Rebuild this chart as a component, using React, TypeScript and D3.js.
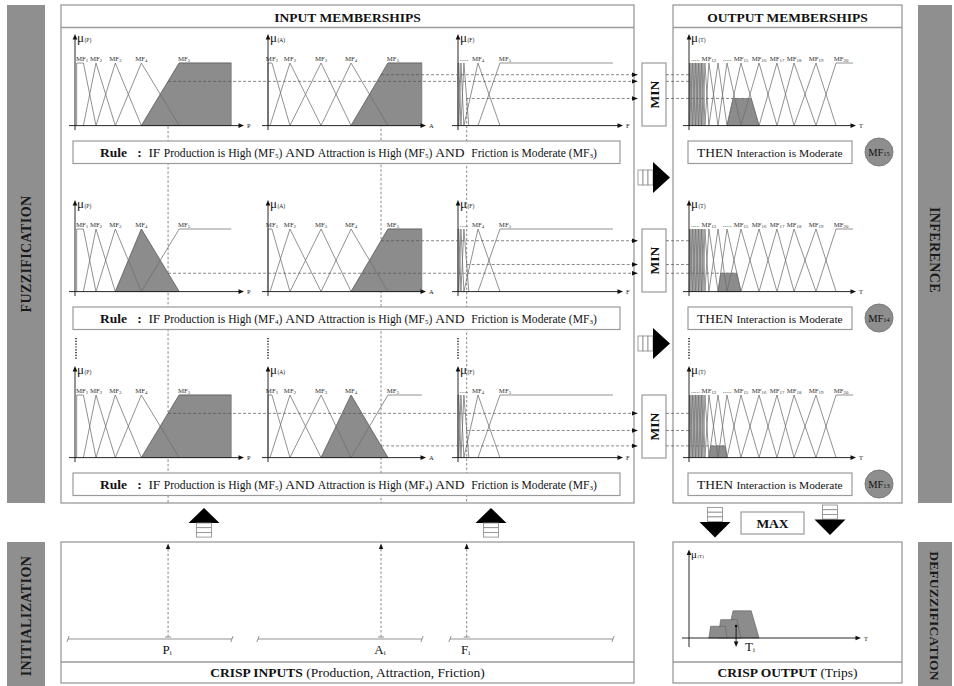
import React from "react";
import * as d3 from "d3";

type Trap = [number, number, number, number];

// ---------------- data ----------------
const inputKeys = ["P", "A", "F"];
const inputNames = ["Production", "Attraction", "Friction"];
const pMF: Trap[] = [[1, 1, 5, 12.5], [5, 12.5, 12.5, 24], [12.5, 24, 24, 39.5], [24, 39.5, 39.5, 62], [39.5, 62, 93, 93]];
const pLabels = ["1", "2", "3", "4", "5"];
const aMF: Trap[] = [[0, 0, 2.5, 14], [1.3, 14, 14, 33.8], [14, 33.8, 33.8, 52.9], [33.8, 52.9, 52.9, 76.4], [52.9, 76.4, 98, 98]];
const aLabels = ["1", "2", "3", "4", "5"];
const fMF: Trap[] = [[0, 0, 0.5, 1.8], [0.5, 1.8, 1.8, 3.6], [1.8, 3.6, 3.6, 6.6], [3.6, 12.2, 12.2, 25.6], [12.2, 25.6, 94.5, 94.5]];
const fLabels = ["", "", ".....", "4", "5"];
const tPeaks = [0.3, 1.2, 2.1, 3.0, 3.9, 4.8, 5.7, 6.6, 7.5, 8.4, 9.6, 12.0, 17.5, 22.9, 31.3, 42.2, 53.0, 63.3, 76.5, 88.6];
const tEnd = 98.8;
const tLabels = ["", "", "", "", ".....", "", "", "", "", "", "", "12", "", ".....", "15", "16", "17", "18", "19", "20"];
const crisp = [55.4, 72, 5.3];
const ruleAnte = [[5, 5, 3], [4, 5, 3], [5, 4, 3]];
const anteTerms = ["High", "High", "Moderate"];
const ruleCons = [15, 14, 13];
const consName = "Interaction";
const consTerm = "Moderate";

// ---------------- helpers ----------------
const FONT = "'Liberation Serif', 'Times New Roman', Times, serif";
const PANEL = "#9a9a9a";
const SIDE = "#8f8f8f";
const MFLINE = "#6e6e6e";
const SHADE = "#8c8c8c";
const DASH = "#555";

function mu(t: Trap, x: number) {
  const [a, b, c, d] = t;
  if (x < a || x > d) return 0;
  if (x >= b && x <= c) return 1;
  if (x < b) return (x - a) / (b - a);
  return (d - x) / (d - c);
}
function mfPts(t: Trap): [number, number][] {
  const [a, b, c, d] = t;
  const pts: [number, number][] = [[a, 0], [b, 1]];
  if (c > b) pts.push([c, 1]);
  if (d > c) pts.push([d, 0]);
  return pts;
}
function clipPts(t: Trap, h: number): [number, number][] {
  const [a, b, c, d] = t;
  return [[a, 0], [a + h * (b - a), h], [d - h * (d - c), h], [d, 0]];
}
function labelX(t: Trap, sx: (v: number) => number) {
  const [a, b, c, d] = t;
  if (a === b) return (sx(b) + sx(c)) / 2 + 2;
  if (c === d) return sx(b) + 5;
  return sx(b);
}

function MFLabel({ x, y, sub }: { x: number; y: number; sub: string }) {
  if (!sub) return null;
  if (sub.startsWith(".")) {
    return <text x={x} y={y} fontSize={7} textAnchor="middle" fill="#444">{sub}</text>;
  }
  return (
    <text x={x} y={y} fontSize={6.8} textAnchor="middle" fill="#333">
      MF<tspan fontSize={4.8} dy={0.8}>{sub}</tspan>
    </text>
  );
}

function Chart({ sx, sy, mfs, labels, keyName, shadeIdx, shadeH, tipX }: any) {
  const x0 = sx(0);
  const top = sy(1);
  const bse = sy(0);
  const line = d3.line<[number, number]>().x((d) => sx(d[0])).y((d) => sy(d[1]));
  return (
    <g>
      {shadeIdx != null && (
        <path d={line(clipPts(mfs[shadeIdx], shadeH))! + "Z"} fill={SHADE} stroke="#6a6a6a" strokeWidth={0.6} />
      )}
      {mfs.map((t: Trap, i: number) => (
        <path key={i} d={line(mfPts(t))!} fill="none" stroke={MFLINE} strokeWidth={0.75} />
      ))}
      {mfs.map((t: Trap, i: number) => (
        <MFLabel key={"l" + i} x={labelX(t, sx)} y={top - 2} sub={labels[i]} />
      ))}
      <line x1={x0} x2={x0} y1={top - 26} y2={bse + 4.5} stroke="#111" strokeWidth={0.9} />
      <path d={`M${x0},${top - 29}L${x0 - 2.3},${top - 23.5}L${x0 + 2.3},${top - 23.5}Z`} fill="#111" />
      <line x1={x0 - 6} x2={tipX - 3} y1={bse} y2={bse} stroke="#111" strokeWidth={0.9} />
      <path d={`M${tipX + 1},${bse}L${tipX - 4.5},${bse - 2.3}L${tipX - 4.5},${bse + 2.3}Z`} fill="#111" />
      <text x={tipX + 4} y={bse + 2.5} fontSize={6.5} fill="#222">{keyName}</text>
      <text x={x0 + 2} y={top - 21} fontSize={13} fill="#111">
        μ<tspan fontSize={5.5} dx={0.5}>({keyName})</tspan>
      </text>
    </g>
  );
}

function RightArrow({ cy }: { cy: number }) {
  return (
    <g>
      {[0, 1, 2].map((i) => (
        <rect key={i} x={638 + i * 5} y={cy - 7.5} width={5} height={15} fill="#fff" stroke="#888" strokeWidth={0.8} />
      ))}
      <path d={`M653,${cy - 15.5}L670,${cy}L653,${cy + 15.5}Z`} fill="#000" />
    </g>
  );
}
function UpArrow({ cx }: { cx: number }) {
  return (
    <g>
      <path d={`M${cx},508L${cx - 15.5},523L${cx + 15.5},523Z`} fill="#000" />
      {[0, 1, 2].map((i) => (
        <rect key={i} x={cx - 7.5} y={523 + i * 4.7} width={15} height={4.7} fill="#fff" stroke="#888" strokeWidth={0.8} />
      ))}
    </g>
  );
}
function DownArrow({ cx, top }: { cx: number; top: number }) {
  return (
    <g>
      {[0, 1, 2].map((i) => (
        <rect key={i} x={cx - 7.5} y={top + i * 4.7} width={15} height={4.7} fill="#fff" stroke="#888" strokeWidth={0.8} />
      ))}
      <path d={`M${cx - 15.5},${top + 14.5}L${cx + 15.5},${top + 14.5}L${cx},${top + 30}Z`} fill="#000" />
    </g>
  );
}

export default function App() {
  const OFF = 166;
  const baseY = (r: number) => 125.6 + OFF * r;
  const yS = (r: number) => d3.scaleLinear().domain([0, 1]).range([baseY(r), baseY(r) - 62.6]);
  const charts = [
    { key: "P", mfs: pMF, labels: pLabels, x: d3.scaleLinear().domain([0, 100]).range([75, 243]), tip: 243 },
    { key: "A", mfs: aMF, labels: aLabels, x: d3.scaleLinear().domain([0, 100]).range([268, 425]), tip: 425 },
    { key: "F", mfs: fMF, labels: fLabels, x: d3.scaleLinear().domain([0, 100]).range([458, 622]), tip: 622 },
  ];
  const xT = d3.scaleLinear().domain([0, 100]).range([689, 855]);
  const tMF: Trap[] = tPeaks.map((p, i) => {
    const prev = i === 0 ? 0 : tPeaks[i - 1];
    if (i === tPeaks.length - 1) return [prev, p, tEnd, tEnd] as Trap;
    return [prev, p, p, tPeaks[i + 1]] as Trap;
  });

  const fire = ruleAnte.map((ante) => ante.map((m, c) => mu(charts[c].mfs[m - 1], crisp[c])));
  const minFire = fire.map((f) => Math.min(...f));
  const crispX = charts.map((ch, c) => ch.x(crisp[c]));

  const yAgg = d3.scaleLinear().domain([0, 1]).range([638, 575.4]);
  let num = 0, den = 0;
  for (let v = 0; v <= 100; v += 0.05) {
    const m = Math.max(...ruleCons.map((k, r) => Math.min(minFire[r], mu(tMF[k - 1], v))));
    num += m * v; den += m;
  }
  const centroid = num / den;
  const lineAgg = d3.line<[number, number]>().x((d) => xT(d[0])).y((d) => yAgg(d[1]));

  const rows = [0, 1, 2];

  const ruleText = (r: number) => {
    const parts: any[] = [];
    parts.push(<tspan key="r" fontWeight="bold" fontSize={13.5}>Rule</tspan>);
    parts.push(<tspan key="c" fontWeight="bold" fontSize={13.5}>{"   :  "}</tspan>);
    parts.push(<tspan key="if" fontSize={13.5}>{"IF "}</tspan>);
    inputNames.forEach((n, c) => {
      parts.push(<tspan key={"n" + c} fontSize={11.6}>{`${n} is ${anteTerms[c]} (MF`}</tspan>);
      parts.push(<tspan key={"s" + c} fontSize={7} dy={1.5}>{String(ruleAnte[r][c])}</tspan>);
      parts.push(<tspan key={"p" + c} fontSize={11.6} dy={-1.5}>{") "}</tspan>);
      if (c < 2) parts.push(<tspan key={"a" + c} fontSize={13.5}>{c === 1 ? "AND  " : "AND "}</tspan>);
    });
    return parts;
  };

  return (
    <svg width={954} height={686} style={{ position: "absolute", left: 0, top: 0, background: "#fff" }} fontFamily={FONT}>
      <rect x={0} y={0} width={954} height={686} fill="#fff" />
      <rect x={7} y={5} width={38} height={498} fill={SIDE} />
      <rect x={7} y={542} width={38} height={144} fill={SIDE} />
      <rect x={918} y={5} width={34} height={498} fill={SIDE} />
      <rect x={918} y={542} width={34} height={144} fill={SIDE} />
      <text transform="translate(31,254) rotate(-90)" textAnchor="middle" fontWeight="bold" fontSize={14} fill="#1a1a1a" letterSpacing={0.4}>FUZZIFICATION</text>
      <text transform="translate(31,616) rotate(-90)" textAnchor="middle" fontWeight="bold" fontSize={14} fill="#1a1a1a" letterSpacing={0.4}>INITIALIZATION</text>
      <text transform="translate(930,250) rotate(90)" textAnchor="middle" fontWeight="bold" fontSize={14} fill="#1a1a1a" letterSpacing={0.4}>INFERENCE</text>
      <text transform="translate(930,616) rotate(90)" textAnchor="middle" fontWeight="bold" fontSize={13.5} fill="#1a1a1a" letterSpacing={0.2}>DEFUZZIFICATION</text>

      <rect x={61} y={5} width={573} height={498} fill="none" stroke={PANEL} strokeWidth={1.3} />
      <line x1={61} x2={634} y1={27.5} y2={27.5} stroke={PANEL} strokeWidth={1.3} />
      <text x={347.5} y={21.5} textAnchor="middle" fontWeight="bold" fontSize={13.5} fill="#111">INPUT MEMBERSHIPS</text>
      <rect x={673} y={5} width={229} height={498} fill="none" stroke={PANEL} strokeWidth={1.3} />
      <line x1={673} x2={902} y1={27.5} y2={27.5} stroke={PANEL} strokeWidth={1.3} />
      <text x={787.5} y={21.5} textAnchor="middle" fontWeight="bold" fontSize={13.5} fill="#111">OUTPUT MEMBERSHIPS</text>

      {crispX.map((x, c) => (
        <line key={"v" + c} x1={x} x2={x} y1={yS(0)(fire[0][c])} y2={503} stroke={DASH} strokeWidth={0.7} strokeDasharray="2.5,2" />
      ))}

      {rows.map((r) => {
        const sy = yS(r);
        return (
          <g key={"row" + r}>
            {charts.map((ch, c) => (
              <Chart key={c} sx={ch.x} sy={sy} mfs={ch.mfs} labels={ch.labels} keyName={ch.key}
                shadeIdx={c < 2 ? ruleAnte[r][c] - 1 : null} shadeH={1} tipX={ch.tip} />
            ))}
            {charts.map((ch, c) => {
              const y = sy(fire[r][c]);
              return (
                <g key={"h" + c}>
                  <line x1={crispX[c]} x2={632} y1={y} y2={y} stroke={DASH} strokeWidth={0.7} strokeDasharray="3,2" />
                  <path d={`M638,${y}L632,${y - 2.2}L632,${y + 2.2}Z`} fill="#111" />
                </g>
              );
            })}
            <rect x={642} y={63 + OFF * r} width={24} height={63} fill="#fff" stroke={PANEL} strokeWidth={1.2} />
            <text transform={`translate(658.5,${94.5 + OFF * r}) rotate(-90)`} textAnchor="middle" fontWeight="bold" fontSize={13.5} fill="#111">MIN</text>
            {fire[r].map((f, c) => {
              const y = sy(f);
              const isMin = f === minFire[r];
              const t = tMF[ruleCons[r] - 1];
              const xr = isMin ? xT(t[3] - minFire[r] * (t[3] - t[2])) : 689;
              return <line key={"o" + c} x1={666} x2={xr} y1={y} y2={y} stroke={DASH} strokeWidth={0.7} strokeDasharray="3,2" />;
            })}
            <Chart sx={xT} sy={sy} mfs={tMF} labels={tLabels} keyName="T" shadeIdx={ruleCons[r] - 1} shadeH={minFire[r]} tipX={855} />
            <rect x={73} y={141 + OFF * r} width={547} height={22.5} fill="#fff" stroke={PANEL} strokeWidth={1.2} />
            <text x={100} y={156.5 + OFF * r} fill="#111" style={{ whiteSpace: "pre" }}>{ruleText(r)}</text>
            <rect x={688} y={141 + OFF * r} width={164} height={22.5} fill="#fff" stroke={PANEL} strokeWidth={1.2} />
            <text x={697} y={157 + OFF * r} fill="#111" style={{ whiteSpace: "pre" }}>
              <tspan fontSize={13.5}>{"THEN "}</tspan>
              <tspan fontSize={11.4}>{`${consName} is ${consTerm}`}</tspan>
            </text>
            <circle cx={879} cy={152 + OFF * r} r={14} fill="#8e8e8e" stroke="#7a7a7a" strokeWidth={1} />
            <text x={879} y={155.5 + OFF * r} textAnchor="middle" fontSize={10.5} fill="#111">
              MF<tspan fontSize={6.5} dy={0.8}>{String(ruleCons[r])}</tspan>
            </text>
          </g>
        );
      })}

      {[76, 268, 458, 689].map((x) => (
        <line key={"d" + x} x1={x} x2={x} y1={338} y2={360} stroke="#222" strokeWidth={1.5} strokeDasharray="1.2,1.6" />
      ))}

      <RightArrow cy={177.5} />
      <RightArrow cy={343.5} />
      <UpArrow cx={204} />
      <UpArrow cx={491} />
      <DownArrow cx={715} top={507.5} />
      <DownArrow cx={830} top={505} />
      <rect x={741} y={512} width={63} height={22} fill="#fff" stroke={PANEL} strokeWidth={1.2} />
      <text x={772.5} y={527.5} textAnchor="middle" fontWeight="bold" fontSize={13.5} fill="#111">MAX</text>

      <rect x={61} y={542} width={573} height={141} fill="none" stroke={PANEL} strokeWidth={1.3} />
      <line x1={61} x2={634} y1={662} y2={662} stroke={PANEL} strokeWidth={1.3} />
      <text x={347.5} y={677} textAnchor="middle" fontSize={13.5} fill="#111" style={{ whiteSpace: "pre" }}>
        <tspan fontWeight="bold">CRISP INPUTS</tspan>
        <tspan>{" (Production, Attraction, Friction)"}</tspan>
      </text>
      {[[68, 232], [258, 422], [450, 613]].map(([x1, x2], c) => (
        <g key={"ax" + c}>
          <line x1={x1} x2={x2} y1={639} y2={639} stroke="#777" strokeWidth={0.8} />
          <line x1={x1 - 1.2} x2={x1 + 1.2} y1={642} y2={636} stroke="#777" strokeWidth={0.8} />
          <line x1={x2 - 1.2} x2={x2 + 1.2} y1={642} y2={636} stroke="#777" strokeWidth={0.8} />
        </g>
      ))}
      {crispX.map((x, c) => (
        <g key={"ci" + c}>
          <line x1={x} x2={x} y1={637} y2={548} stroke={DASH} strokeWidth={0.7} strokeDasharray="2.5,2" />
          <path d={`M${x},543.5L${x - 2.2},549L${x + 2.2},549Z`} fill="#111" />
          <line x1={x - 3} x2={x + 3} y1={637} y2={637} stroke="#777" strokeWidth={0.8} />
          <text x={x - 1} y={654} textAnchor="middle" fontSize={13} fill="#111">
            {inputKeys[c]}<tspan fontSize={7} dy={1}>i</tspan>
          </text>
        </g>
      ))}

      <rect x={673} y={542} width={229} height={141} fill="none" stroke={PANEL} strokeWidth={1.3} />
      <line x1={673} x2={902} y1={662} y2={662} stroke={PANEL} strokeWidth={1.3} />
      <text x={787.5} y={677} textAnchor="middle" fontSize={13.5} fill="#111" style={{ whiteSpace: "pre" }}>
        <tspan fontWeight="bold">CRISP OUTPUT</tspan>
        <tspan>{" (Trips)"}</tspan>
      </text>
      {ruleCons.map((k, r) => (
        <path key={"agg" + r} d={lineAgg(clipPts(tMF[k - 1], minFire[r]))! + "Z"} fill={SHADE} stroke="#666" strokeWidth={0.7} />
      ))}
      <line x1={689} x2={689} y1={553} y2={647} stroke="#111" strokeWidth={0.9} />
      <path d={`M689,549.5L686.7,555L691.3,555Z`} fill="#111" />
      <line x1={682} x2={857} y1={638} y2={638} stroke="#111" strokeWidth={0.9} />
      <path d={`M861,638L855.5,635.7L855.5,640.3Z`} fill="#111" />
      <text x={864} y={640.5} fontSize={6.5} fill="#222">T</text>
      <text x={691} y={558} fontSize={11} fill="#111">
        μ<tspan fontSize={5} dx={0.5}>(T)</tspan>
      </text>
      <circle cx={xT(centroid)} cy={626} r={1.3} fill="#111" />
      <line x1={xT(centroid)} x2={xT(centroid)} y1={626} y2={642} stroke="#111" strokeWidth={0.9} />
      <path d={`M${xT(centroid)},647L${xT(centroid) - 2.3},641.5L${xT(centroid) + 2.3},641.5Z`} fill="#111" />
      <text x={xT(centroid) + 9} y={651} fontSize={13} fill="#111">
        T<tspan fontSize={7} dy={1}>i</tspan>
      </text>
    </svg>
  );
}
